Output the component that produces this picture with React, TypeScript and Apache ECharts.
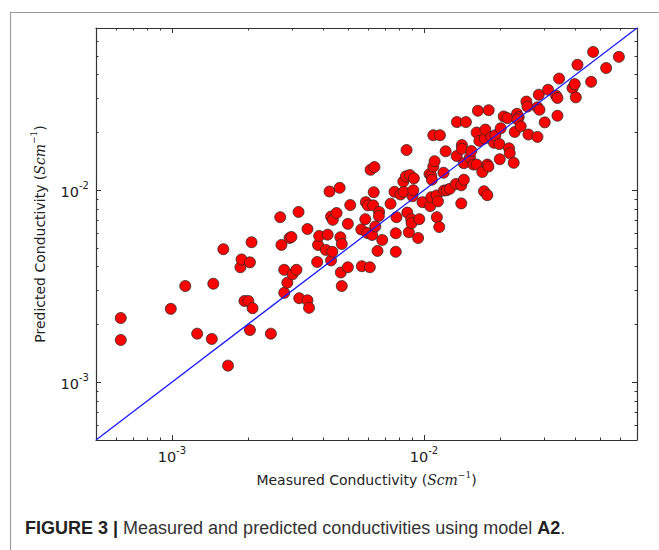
import React, { useEffect, useRef } from "react";
import * as echarts from "echarts";

// Measured conductivity (S/cm), x of each point
const xMeasured = [
  0.000627, 0.000627, 0.00099, 0.00113, 0.00126, 0.00144, 0.00146, 0.0016, 0.00167, 0.00187,
  0.00189, 0.00194, 0.00201, 0.00204, 0.00204, 0.00207, 0.00209, 0.00247, 0.00269, 0.00272,
  0.00279, 0.00279, 0.00287, 0.00293, 0.00298, 0.00301, 0.00312, 0.00318, 0.0032, 0.00345,
  0.00345, 0.0035, 0.00377, 0.0038, 0.00384, 0.00408, 0.00415, 0.00422, 0.00428, 0.00428,
  0.00433, 0.00435, 0.0045, 0.00463, 0.00466, 0.00468, 0.00472, 0.00472, 0.00499, 0.00499,
  0.0051, 0.00564, 0.00567, 0.00585, 0.00588, 0.00599, 0.0061, 0.00595, 0.00614, 0.00636,
  0.00623, 0.00629, 0.00632, 0.00641, 0.00654, 0.00664, 0.00662, 0.00683, 0.00737, 0.00764,
  0.00773, 0.00773, 0.00778, 0.00807, 0.00828, 0.00832, 0.00848, 0.00853, 0.00859, 0.00871,
  0.00879, 0.0089, 0.00893, 0.00901, 0.00907, 0.00912, 0.00948, 0.00958, 0.00987, 0.01052,
  0.01059, 0.01069, 0.01069, 0.01075, 0.01089, 0.01089, 0.01102, 0.01122, 0.01125, 0.01136,
  0.0115, 0.01157, 0.01196, 0.012, 0.01219, 0.0123, 0.01267, 0.01339, 0.01348, 0.01351,
  0.01406, 0.01406, 0.01414, 0.01414, 0.0144, 0.0144, 0.01467, 0.01522, 0.01541, 0.0157,
  0.01618, 0.01618, 0.01637, 0.01658, 0.01704, 0.0173, 0.01741, 0.01752, 0.01784, 0.01784,
  0.01801, 0.01806, 0.01851, 0.01896, 0.0192, 0.01992, 0.01998, 0.02016, 0.02072, 0.02143,
  0.02175, 0.02189, 0.0227, 0.02291, 0.02339, 0.02376, 0.02348, 0.0242, 0.02549, 0.02573,
  0.02597, 0.0282, 0.02872, 0.0282, 0.02854, 0.03014, 0.03107, 0.03342, 0.03385, 0.03385,
  0.03436, 0.03883, 0.03965, 0.04002, 0.04064, 0.04604, 0.04688, 0.05281, 0.05932,
];

// Predicted conductivity (S/cm), y of each point
const yPredicted = [
  0.00216, 0.00166, 0.00241, 0.00317, 0.00179, 0.00168, 0.00326, 0.00493, 0.00122, 0.00397,
  0.00436, 0.00265, 0.00265, 0.00421, 0.00187, 0.00536, 0.00243, 0.00179, 0.00724, 0.00519,
  0.00385, 0.00292, 0.0033, 0.00564, 0.00571, 0.00365, 0.00385, 0.00771, 0.00274, 0.00628,
  0.00267, 0.00244, 0.00423, 0.00519, 0.00578, 0.00489, 0.00587, 0.00985, 0.0073, 0.00431,
  0.00478, 0.00701, 0.00761, 0.01029, 0.00569, 0.00373, 0.00525, 0.00317, 0.00668, 0.00397,
  0.00837, 0.00625, 0.00402, 0.00707, 0.00867, 0.00834, 0.00397, 0.00599, 0.01278, 0.0132,
  0.00585, 0.00834, 0.00977, 0.00648, 0.00483, 0.00771, 0.00735, 0.00551, 0.00851, 0.00981,
  0.00597, 0.00478, 0.00724, 0.0095, 0.01109, 0.00981, 0.01181, 0.0162, 0.00765, 0.00604,
  0.012, 0.00707, 0.00674, 0.00931, 0.01, 0.01153, 0.00564, 0.00707, 0.00867, 0.01214,
  0.00827, 0.0119, 0.0092, 0.01135, 0.01935, 0.01329, 0.01417, 0.00939, 0.00724, 0.00875,
  0.00643, 0.01935, 0.01233, 0.00996, 0.01595, 0.01, 0.01017, 0.01079, 0.01508, 0.02265,
  0.01061, 0.00854, 0.01719, 0.01645, 0.01384, 0.01135, 0.02265, 0.01485, 0.01601, 0.01361,
  0.01361, 0.01998, 0.02593, 0.01808, 0.01244, 0.00988, 0.01861, 0.0207, 0.01361, 0.00943,
  0.01329, 0.02612, 0.01896, 0.01766, 0.01935, 0.01739, 0.01451, 0.02102, 0.02424, 0.02375,
  0.01653, 0.01557, 0.01389, 0.02012, 0.02502, 0.02404, 0.02339, 0.02153, 0.02895, 0.02729,
  0.01951, 0.02706, 0.02624, 0.01896, 0.03145, 0.02257, 0.03337, 0.03108, 0.03025, 0.02444,
  0.03816, 0.03405, 0.03571, 0.03046, 0.04504, 0.03669, 0.05254, 0.04331, 0.04953,
];

const identityLine = [0.0005, 0.07];
const axisMin = 0.0005;
const axisMax = 0.07;
const majorTicks = [0.001, 0.01];
const minorTicks = [
  0.0006, 0.0007, 0.0008, 0.0009, 0.002, 0.003, 0.004, 0.005, 0.006, 0.007, 0.008, 0.009,
  0.02, 0.03, 0.04, 0.05, 0.06, 0.07,
];
const xTitle = "Measured Conductivity";
const yTitle = "Predicted Conductivity";
const unitMain = "Scm";
const unitExp = "\u22121";
const captionLead = "FIGURE 3 |";
const captionText = " Measured and predicted conductivities using model ";
const captionModel = "A2";

export default function App() {
  const ref = useRef<HTMLDivElement>(null);

  useEffect(() => {
    if (!ref.current) return;
    const chart = echarts.init(ref.current, null, { renderer: "svg" });
    const sans = "'DejaVu Sans', sans-serif";
    const textColor = "#222";
    const frameColor = "#333";

    const tickRich = {
      b: { fontSize: 14.5, fontFamily: sans, color: textColor, lineHeight: 19, verticalAlign: "bottom" },
      sup: { fontSize: 10, fontFamily: sans, color: textColor, lineHeight: 19, verticalAlign: "top" },
    };
    const fmt = (v: number) => `{b|10}{sup|${Math.round(Math.log10(v))}}`;

    const nameStyle = {
      fontSize: 14,
      fontFamily: sans,
      color: textColor,
      lineHeight: 20,
      rich: {
        it: { fontSize: 14, fontFamily: "'DejaVu Serif', serif", fontStyle: "italic", color: textColor, lineHeight: 20 },
        sup: { fontSize: 9, fontFamily: "'DejaVu Serif', serif", color: textColor, lineHeight: 20, verticalAlign: "top" },
      },
    };

    const mkAxis = (position: string, major: boolean, showLabel: boolean, showLine: boolean, margin = 6) => ({
      type: "log",
      logBase: 10,
      min: axisMin,
      max: axisMax,
      position,
      axisLine: { show: showLine, onZero: false, lineStyle: { color: frameColor, width: 1.2 } },
      axisTick: {
        show: true,
        inside: true,
        length: major ? 5 : 2.5,
        customValues: major ? majorTicks : minorTicks,
        lineStyle: { color: frameColor, width: 1 },
      },
      axisLabel: {
        show: showLabel,
        customValues: majorTicks,
        formatter: fmt,
        margin,
        rich: tickRich,
      },
      splitLine: { show: false },
      minorTick: { show: false },
      minorSplitLine: { show: false },
    });

    const x0: any = mkAxis("bottom", true, true, true, 5);
    x0.name = `${xTitle} ({it|${unitMain}}{sup|${unitExp}})`;
    x0.nameLocation = "middle";
    x0.nameGap = 30;
    x0.nameTextStyle = nameStyle;
    const y0: any = mkAxis("left", true, true, true, 7);
    y0.name = `${yTitle} ({it|${unitMain}}{sup|${unitExp}})`;
    y0.nameLocation = "middle";
    y0.nameGap = 44;
    y0.nameRotate = 90;
    y0.nameTextStyle = nameStyle;

    const points = xMeasured.map((x, i) => [x, yPredicted[i]]);
    const capFont = "'Liberation Sans', Arial, sans-serif";

    chart.setOption({
      animation: false,
      backgroundColor: "#fff",
      grid: { left: 96, right: 22, top: 28, bottom: 110 },
      xAxis: [
        x0,
        mkAxis("bottom", false, false, false),
        mkAxis("top", true, false, true),
        mkAxis("top", false, false, false),
      ],
      yAxis: [
        y0,
        mkAxis("left", false, false, false),
        mkAxis("right", true, false, true),
        mkAxis("right", false, false, false),
      ],
      series: [
        {
          type: "scatter",
          xAxisIndex: 0,
          yAxisIndex: 0,
          data: points,
          symbol: "circle",
          symbolSize: 11,
          itemStyle: { color: "#ff0000", borderColor: "#2a2a2a", borderWidth: 0.8, opacity: 1 },
          z: 2,
        },
        {
          type: "line",
          xAxisIndex: 0,
          yAxisIndex: 0,
          data: identityLine.map((v) => [v, v]),
          symbol: "none",
          lineStyle: { color: "#1a1aff", width: 1.3 },
          z: 3,
        },
      ],
      graphic: [
        {
          type: "rect",
          silent: true,
          z: -10,
          shape: { x: 10.5, y: 12.5, width: 700, height: 600 },
          style: { fill: "none", stroke: "#9c9c9c", lineWidth: 1.2 },
        },
        {
          type: "text",
          silent: true,
          x: 25,
          y: 528,
          style: {
            text: `{b|${captionLead}}${captionText}{b|${captionModel}}.`,
            fontSize: 18,
            fontFamily: capFont,
            fill: "#333",
            verticalAlign: "middle",
            rich: {
              b: { fontSize: 18, fontWeight: "bold", fontFamily: capFont, fill: "#222" },
            },
          },
        },
      ],
    });

    return () => chart.dispose();
  }, []);

  return (
    <div
      ref={ref}
      style={{ position: "absolute", left: 0, top: 0, width: 659, height: 550 }}
    />
  );
}
